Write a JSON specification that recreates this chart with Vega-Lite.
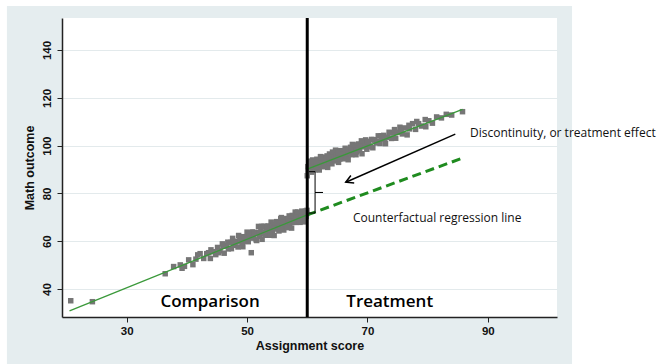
{
  "$schema": "https://vega.github.io/schema/vega-lite/v6.json",
  "width": 495,
  "height": 299,
  "autosize": {"type": "none"},
  "padding": {"left": 62, "top": 18, "right": 101, "bottom": 47},
  "background": "#e5edef",
  "config": {
    "view": {"stroke": null, "fill": "white"},
    "axis": {
      "labelFont": "Liberation Sans",
      "labelFontWeight": "bold",
      "labelFontSize": 11.5,
      "labelColor": "#111111",
      "titleFont": "Liberation Sans",
      "titleFontWeight": "bold",
      "titleFontSize": 12.5,
      "titleColor": "#111111",
      "domainColor": "#222222",
      "domainWidth": 1.5,
      "tickColor": "#222222",
      "tickSize": 5,
      "gridColor": "#e3eaec",
      "gridWidth": 1
    }
  },
  "encoding": {
    "x": {
      "field": "x", "type": "quantitative",
      "scale": {"domain": [19.25, 101.5], "nice": false, "zero": false},
      "axis": {"values": [30, 50, 70, 90], "grid": false, "title": "Assignment score", "labelPadding": 3, "titlePadding": 3}
    },
    "y": {
      "field": "y", "type": "quantitative",
      "scale": {"domain": [28.3, 153.4], "nice": false, "zero": false},
      "axis": {"values": [40, 60, 80, 100, 120, 140], "grid": true, "labelAngle": 270, "title": "Math outcome", "labelPadding": 5, "titlePadding": 5}
    }
  },
  "layer": [
    {
      "data": {"values": [
        {"x": 104.0, "x2": 130, "y": 0, "y2": 175},
        {"x": 0, "x2": 130, "y": 158.4, "y2": 175},
        {"x": 0, "x2": 10.1, "y": 0, "y2": 175}
      ]},
      "mark": {"type": "rect", "clip": false, "color": "white"},
      "encoding": {"x2": {"field": "x2"}, "y2": {"field": "y2"}}
    },
    {
      "data": {"values": [
        {"x":20.7,"y":35.1},{"x":24.3,"y":34.7},
        {"x":36.4,"y":46.4},{"x":37.8,"y":49.4},{"x":38.9,"y":50.1},{"x":39.6,"y":49.5},{"x":40.3,"y":52.2},{"x":41.0,"y":50.2},{"x":41.5,"y":52.5},{"x":42.2,"y":54.8},{"x":42.8,"y":52.8},{"x":43.3,"y":54.8},{"x":43.9,"y":52.8},{"x":44.4,"y":55.6},
        {"x":44.8,"y":54.4},{"x":45.1,"y":57.4},{"x":45.5,"y":56.0},{"x":45.9,"y":58.9},{"x":46.2,"y":55.0},{"x":46.6,"y":58.1},{"x":46.9,"y":56.8},{"x":47.3,"y":59.5},{"x":47.6,"y":61.2},{"x":47.9,"y":58.3},{"x":48.2,"y":60.0},{"x":48.5,"y":57.6},{"x":48.8,"y":61.9},{"x":49.0,"y":60.0},{"x":49.3,"y":57.7},{"x":49.5,"y":61.9},{"x":49.8,"y":60.0},{"x":50.0,"y":63.8},{"x":50.2,"y":59.8},{"x":50.4,"y":62.1},{"x":50.7,"y":55.2},{"x":50.9,"y":63.9},{"x":51.1,"y":61.8},{"x":51.3,"y":63.5},{"x":51.5,"y":60.6},{"x":51.7,"y":63.1},{"x":51.9,"y":66.2},{"x":52.1,"y":62.1},{"x":52.3,"y":65.1},{"x":52.5,"y":60.8},{"x":52.6,"y":63.8},{"x":52.8,"y":66.3},{"x":53.0,"y":62.5},{"x":53.2,"y":65.1},{"x":53.4,"y":63.8},{"x":53.5,"y":66.4},{"x":53.7,"y":62.5},{"x":53.9,"y":65.4},{"x":54.0,"y":68.0},{"x":54.2,"y":64.0},{"x":54.4,"y":66.8},{"x":54.5,"y":62.4},{"x":54.7,"y":65.7},{"x":54.9,"y":68.2},{"x":55.0,"y":65.1},{"x":55.2,"y":67.3},{"x":55.3,"y":64.3},{"x":55.5,"y":67.1},{"x":55.6,"y":69.4},{"x":55.8,"y":66.4},{"x":55.9,"y":68.5},{"x":56.1,"y":64.7},{"x":56.2,"y":67.5},{"x":56.4,"y":69.5},{"x":56.5,"y":66.4},{"x":56.7,"y":68.7},{"x":56.8,"y":67.1},{"x":57.0,"y":70.6},{"x":57.1,"y":66.4},{"x":57.3,"y":69.1},{"x":57.4,"y":65.5},{"x":57.6,"y":70.3},{"x":57.7,"y":68.4},{"x":57.9,"y":69.7},{"x":58.0,"y":72.2},{"x":58.2,"y":67.9},{"x":58.3,"y":70.7},{"x":58.5,"y":68.8},{"x":58.6,"y":71.7},{"x":58.8,"y":67.9},{"x":58.9,"y":70.2},{"x":59.1,"y":72.6},{"x":59.2,"y":69.1},{"x":59.4,"y":71.4},{"x":59.5,"y":68.1},{"x":59.7,"y":72.6},{"x":59.8,"y":70.4},{"x":59.9,"y":71.6},
        {"x":44.0,"y":56.4},{"x":45.3,"y":55.2},{"x":46.0,"y":57.9},{"x":46.8,"y":59.6},{"x":47.4,"y":56.9},{"x":48.0,"y":59.4},{"x":48.6,"y":62.4},{"x":49.2,"y":59.2},{"x":49.7,"y":61.7},{"x":50.3,"y":63.5},{"x":50.8,"y":61.3},{"x":51.2,"y":63.7},{"x":51.6,"y":60.3},{"x":52.0,"y":63.7},{"x":52.4,"y":66.2},{"x":52.9,"y":63.2},{"x":53.3,"y":65.9},{"x":53.8,"y":63.2},{"x":54.3,"y":65.6},{"x":54.8,"y":67.7},{"x":55.4,"y":65.1},{"x":55.7,"y":69.9},{"x":56.0,"y":67.8},{"x":56.6,"y":65.7},{"x":56.9,"y":69.3},{"x":57.2,"y":68.3},{"x":57.5,"y":70.8},{"x":57.8,"y":67.9},{"x":58.1,"y":70.3},{"x":58.4,"y":72.2},{"x":58.7,"y":68.3},{"x":59.0,"y":70.5},{"x":59.3,"y":72.2},{"x":59.6,"y":69.8},{"x":59.95,"y":72.9},{"x":41.8,"y":54.3},{"x":43.6,"y":55.2},{"x":39.2,"y":48.7},
        {"x":60.0,"y":87.4},{"x":60.1,"y":91.2},{"x":60.2,"y":89.2},{"x":60.3,"y":92.8},{"x":60.4,"y":90.3},{"x":60.5,"y":92.1},{"x":60.7,"y":88.9},{"x":60.8,"y":91.5},{"x":60.9,"y":94.0},{"x":61.0,"y":90.4},{"x":61.2,"y":93.1},{"x":61.3,"y":89.9},{"x":61.4,"y":91.8},{"x":61.6,"y":94.3},{"x":61.7,"y":90.9},{"x":61.8,"y":93.1},{"x":62.0,"y":89.8},{"x":62.1,"y":92.9},{"x":62.2,"y":95.4},{"x":62.4,"y":92.0},{"x":62.5,"y":94.2},{"x":62.6,"y":91.3},{"x":62.8,"y":93.3},{"x":62.9,"y":95.2},{"x":63.1,"y":92.3},{"x":63.2,"y":94.6},{"x":63.4,"y":90.9},{"x":63.5,"y":94.4},{"x":63.7,"y":96.5},{"x":63.8,"y":93.6},{"x":64.0,"y":95.6},{"x":64.1,"y":92.4},{"x":64.3,"y":95.0},{"x":64.4,"y":96.5},{"x":64.6,"y":93.6},{"x":64.7,"y":98.1},{"x":64.9,"y":94.4},{"x":65.0,"y":96.3},{"x":65.2,"y":93.0},{"x":65.3,"y":96.2},{"x":65.5,"y":97.9},{"x":65.7,"y":95.3},{"x":65.8,"y":97.6},{"x":66.0,"y":94.5},{"x":66.2,"y":96.5},{"x":66.3,"y":98.9},{"x":66.5,"y":95.6},{"x":66.7,"y":98.1},{"x":66.8,"y":94.1},{"x":67.0,"y":97.7},{"x":67.2,"y":99.3},{"x":67.4,"y":96.2},{"x":67.5,"y":100.5},{"x":67.7,"y":97.5},{"x":67.9,"y":99.5},{"x":68.1,"y":96.2},{"x":68.3,"y":98.8},{"x":68.5,"y":100.7},{"x":68.7,"y":97.9},{"x":68.9,"y":99.8},{"x":69.1,"y":96.6},{"x":69.3,"y":101.1},{"x":69.5,"y":99.5},{"x":69.7,"y":102.4},{"x":69.9,"y":98.5},{"x":70.2,"y":101.0},{"x":70.4,"y":99.8},{"x":70.7,"y":102.6},{"x":70.9,"y":99.1},{"x":71.2,"y":102.3},{"x":71.5,"y":101.1},{"x":71.8,"y":104.1},{"x":72.1,"y":100.9},{"x":72.4,"y":102.8},{"x":72.7,"y":104.3},{"x":73.0,"y":100.8},{"x":73.3,"y":103.5},{"x":73.6,"y":105.6},{"x":74.0,"y":103.0},{"x":74.3,"y":105.4},{"x":74.7,"y":103.1},{"x":75.0,"y":105.6},{"x":75.4,"y":107.7},{"x":75.8,"y":104.9},{"x":76.2,"y":107.4},{"x":76.6,"y":104.5},{"x":77.0,"y":107.0},{"x":77.5,"y":109.2},{"x":78.0,"y":106.8},{"x":78.5,"y":109.2},{"x":79.0,"y":108.2},{"x":79.6,"y":110.9},{"x":79.7,"y":107.9},{"x":80.2,"y":110.4},{"x":80.8,"y":109.4},{"x":81.5,"y":112.0},{"x":82.3,"y":111.6},{"x":83.1,"y":113.1},{"x":84.0,"y":112.8},{"x":85.8,"y":114.2},
        {"x":60.15,"y":89.7},{"x":60.35,"y":93.5},{"x":60.6,"y":91.0},{"x":61.1,"y":93.2},{"x":61.5,"y":91.2},{"x":61.9,"y":93.2},{"x":62.3,"y":95.0},{"x":62.7,"y":91.2},{"x":63.0,"y":94.0},{"x":63.3,"y":95.7},{"x":63.6,"y":93.0},{"x":63.9,"y":95.5},{"x":64.2,"y":97.3},{"x":64.5,"y":94.4},{"x":64.8,"y":96.0},{"x":65.1,"y":97.1},{"x":65.4,"y":94.4},{"x":65.9,"y":96.5},{"x":66.4,"y":98.2},{"x":66.9,"y":96.6},{"x":67.3,"y":98.5},{"x":67.8,"y":100.3},{"x":68.2,"y":97.4},{"x":68.6,"y":99.9},{"x":69.0,"y":102.0},{"x":69.6,"y":100.1},{"x":70.0,"y":101.8},{"x":70.5,"y":99.5},{"x":71.0,"y":102.5},{"x":71.6,"y":101.8},{"x":72.3,"y":104.1},{"x":72.9,"y":102.9},{"x":73.8,"y":105.3},{"x":74.5,"y":106.7},{"x":75.6,"y":106.3},{"x":76.9,"y":108.5},{"x":78.2,"y":110.1}
      ]},
      "mark": {"type": "point", "shape": "square", "filled": true, "size": 30, "color": "#767676", "opacity": 1}
    },
    {
      "data": {"values": [
        {"g": "left", "x": 20.5, "y": 30.9},
        {"g": "left", "x": 60.0, "y": 71.0},
        {"g": "right", "x": 60.0, "y": 90.2},
        {"g": "right", "x": 85.8, "y": 115.2}
      ]},
      "mark": {"type": "line", "color": "#3a993a", "strokeWidth": 1.3},
      "encoding": {"detail": {"field": "g"}}
    },
    {
      "data": {"values": [
        {"x": 60.0, "y": 71.0},
        {"x": 85.8, "y": 94.8}
      ]},
      "mark": {"type": "line", "color": "#1f8b1f", "strokeWidth": 3, "strokeDash": [9, 5]},
      "encoding": {}
    },
    {
      "data": {"values": [{"x": 60.0, "y": 28.3, "y2": 153.4}]},
      "mark": {"type": "rule", "color": "black", "strokeWidth": 3},
      "encoding": {"y2": {"field": "y2"}}
    },
    {
      "data": {"values": [
        {"o": 1, "x": 60.3, "y": 89.1},
        {"o": 2, "x": 61.3, "y": 89.1},
        {"o": 3, "x": 61.3, "y": 80.4},
        {"o": 4, "x": 62.6, "y": 80.4},
        {"o": 5, "x": 61.3, "y": 80.4},
        {"o": 6, "x": 61.3, "y": 71.8},
        {"o": 7, "x": 60.3, "y": 71.8}
      ]},
      "mark": {"type": "line", "color": "black", "strokeWidth": 1},
      "encoding": {"order": {"field": "o", "type": "quantitative"}}
    },
    {
      "data": {"values": [{"x": 84.6, "y": 104.8, "x2": 66.4, "y2": 84.7}]},
      "mark": {"type": "rule", "color": "black", "strokeWidth": 1.5},
      "encoding": {"x2": {"field": "x2"}, "y2": {"field": "y2"}}
    },
    {
      "data": {"values": [{"x": 66.4, "y": 84.7, "a": 246}]},
      "mark": {"type": "point", "shape": "M -0.55 1 L 0 0 L 0.55 1", "filled": false, "size": 220, "color": "black", "strokeWidth": 1.5, "opacity": 1},
      "encoding": {"angle": {"field": "a", "type": "quantitative", "scale": null}}
    },
    {
      "data": {"values": [
        {"x": 87.05, "y": 105.3, "t": "Discontinuity, or treatment effect"},
        {"x": 67.6, "y": 69.7, "t": "Counterfactual regression line"}
      ]},
      "mark": {"type": "text", "font": "Open Sans", "fontSize": 12, "fontWeight": 500, "align": "left", "baseline": "middle", "color": "#111111"},
      "encoding": {"text": {"field": "t"}}
    },
    {
      "data": {"values": [
        {"x": 43.85, "y": 34.7, "t": "Comparison"},
        {"x": 73.7, "y": 34.7, "t": "Treatment"}
      ]},
      "mark": {"type": "text", "font": "Open Sans", "fontSize": 17, "fontWeight": 600, "align": "center", "baseline": "middle", "color": "#000000"},
      "encoding": {"text": {"field": "t"}}
    }
  ]
}
